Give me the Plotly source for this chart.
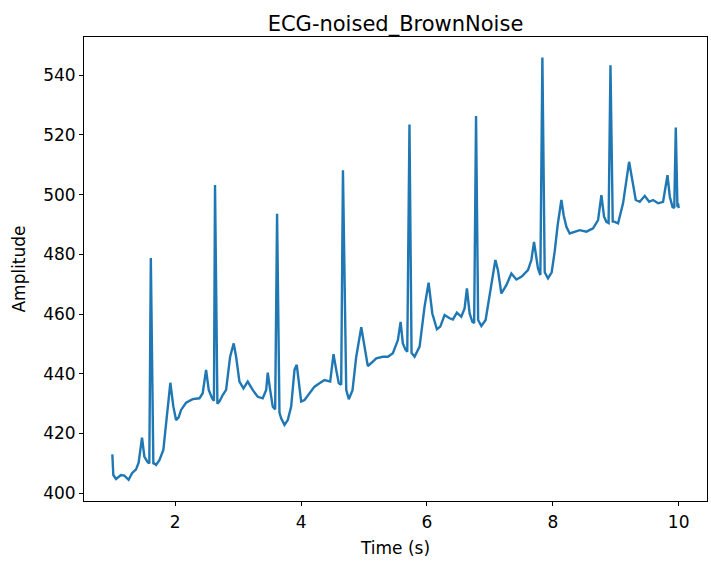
import plotly.graph_objects as go

# Time (s) and amplitude samples
time_s = [
    1.000, 1.016, 1.059, 1.138, 1.191, 1.259, 1.313, 1.377, 1.418, 1.472, 1.509, 1.561, 1.588,
    1.612, 1.652, 1.668, 1.695, 1.748, 1.811, 1.880, 1.922, 1.970, 2.013, 2.054, 2.093, 2.172,
    2.277, 2.384, 2.436, 2.490, 2.532, 2.586, 2.615,
    2.632, 2.670, 2.702, 2.754, 2.808, 2.872, 2.929, 2.967, 3.020, 3.084, 3.152, 3.231, 3.311,
    3.390, 3.445, 3.470, 3.508, 3.550, 3.588,
    3.618, 3.656, 3.683, 3.736, 3.788, 3.842, 3.895, 3.931, 3.963, 4.001, 4.054, 4.133, 4.213,
    4.292, 4.372, 4.462, 4.515, 4.558, 4.599, 4.637,
    4.665, 4.717, 4.758, 4.817, 4.876, 4.956, 5.008, 5.060, 5.119, 5.194, 5.299, 5.379, 5.458,
    5.538, 5.581, 5.617, 5.660, 5.687,
    5.722, 5.755, 5.803, 5.883, 5.962, 6.026, 6.085, 6.158, 6.212, 6.280, 6.360, 6.412, 6.476,
    6.546, 6.598, 6.635, 6.678, 6.721, 6.750,
    6.780, 6.813, 6.864, 6.932, 6.996, 7.087, 7.128, 7.182, 7.262, 7.341, 7.421, 7.500, 7.605,
    7.659, 7.701, 7.764, 7.802,
    7.834, 7.871, 7.923, 7.982, 8.030, 8.078, 8.136, 8.173, 8.216, 8.268, 8.348, 8.427, 8.534,
    8.639, 8.719, 8.772, 8.814, 8.852, 8.886,
    8.916, 8.952, 8.984, 9.037, 9.116, 9.212, 9.266, 9.318, 9.382, 9.461, 9.530, 9.593, 9.673,
    9.752, 9.822, 9.859, 9.902, 9.930,
    9.954, 9.980, 9.990, 10.000,
]
amplitude = [
    413.0, 406.1, 404.8, 406.1, 405.9, 404.5, 406.7, 408.0, 410.2, 418.6, 412.3, 410.4, 410.0,
    478.8, 409.8, 410.0, 409.5, 411.1, 414.5, 430.1, 437.0, 429.0, 424.5, 425.4, 427.9, 430.3,
    431.5, 431.8, 433.5, 441.3, 434.6, 431.8, 431.0,
    503.2, 430.0, 430.7, 432.9, 434.6, 445.7, 450.2, 445.7, 437.4, 435.1, 437.4, 434.6, 432.3,
    431.8, 434.6, 440.4, 434.6, 429.0, 428.1,
    493.6, 427.0, 425.1, 422.9, 424.5, 429.0, 441.3, 443.0, 437.9, 430.7, 431.2, 433.5, 435.7,
    436.8, 437.9, 437.4, 446.6, 441.3, 436.8, 436.3,
    508.2, 434.6, 431.5, 434.5, 445.7, 455.6, 449.1, 442.6, 443.7, 445.2, 445.7, 445.7, 446.9,
    451.3, 457.4, 450.2, 448.0, 447.4,
    523.5, 447.0, 445.7, 449.1, 462.5, 470.5, 460.2, 454.9, 455.8, 459.7, 458.6, 458.2, 460.5,
    459.1, 461.9, 468.6, 460.2, 457.4, 457.0,
    526.3, 458.0, 456.0, 458.0, 465.8, 478.1, 474.7, 466.9, 469.7, 473.6, 471.6, 472.5, 474.7,
    478.1, 484.2, 475.3, 473.1,
    545.9, 474.0, 472.0, 474.0, 481.0, 490.0, 498.2, 493.0, 489.2, 487.0, 487.6, 488.1, 487.6,
    488.7, 491.5, 499.8, 492.6, 490.9, 490.5,
    543.3, 491.0, 490.9, 490.4, 497.1, 511.0, 504.9, 498.2, 497.6, 499.6, 497.6, 498.2, 497.1,
    497.6, 506.5, 499.3, 495.9, 495.5,
    522.5, 495.9, 497.1, 495.5,
]

x_ticks = [2, 4, 6, 8, 10]
y_ticks = [400, 420, 440, 460, 480, 500, 520, 540]

fig = go.Figure()
fig.add_trace(go.Scatter(
    x=time_s, y=amplitude, mode="lines",
    line=dict(color="#1f77b4", width=2.4),
    showlegend=False,
))

font_family = "DejaVu Sans"
axis_common = dict(
    showline=True, mirror=True, linecolor="black", linewidth=1,
    ticks="outside", ticklen=4, tickwidth=1, tickcolor="black",
    showgrid=False, zeroline=False,
    tickfont=dict(family=font_family, size=17, color="black"),
)

fig.update_layout(
    width=711, height=561,
    margin=dict(l=84, r=4, t=37, b=60),
    paper_bgcolor="white", plot_bgcolor="white",
    title=dict(
        text="ECG-noised_BrownNoise",
        font=dict(family=font_family, size=21, color="black"),
        x=0.5, xref="paper", xanchor="center",
        y=1, yref="paper", yanchor="bottom", pad=dict(b=6),
    ),
    xaxis=dict(
        range=[0.55, 10.45], tickvals=x_ticks, ticktext=[str(v) for v in x_ticks],
        ticklabelstandoff=2,
        title=dict(text="Time (s)", font=dict(family=font_family, size=17, color="black"), standoff=10),
        **axis_common,
    ),
    yaxis=dict(
        range=[397.4, 552.8], tickvals=y_ticks, ticktext=[str(v) for v in y_ticks],
        title=dict(text="Amplitude", font=dict(family=font_family, size=17, color="black"), standoff=13),
        **axis_common,
    ),
)

fig.write_html("out.html")
